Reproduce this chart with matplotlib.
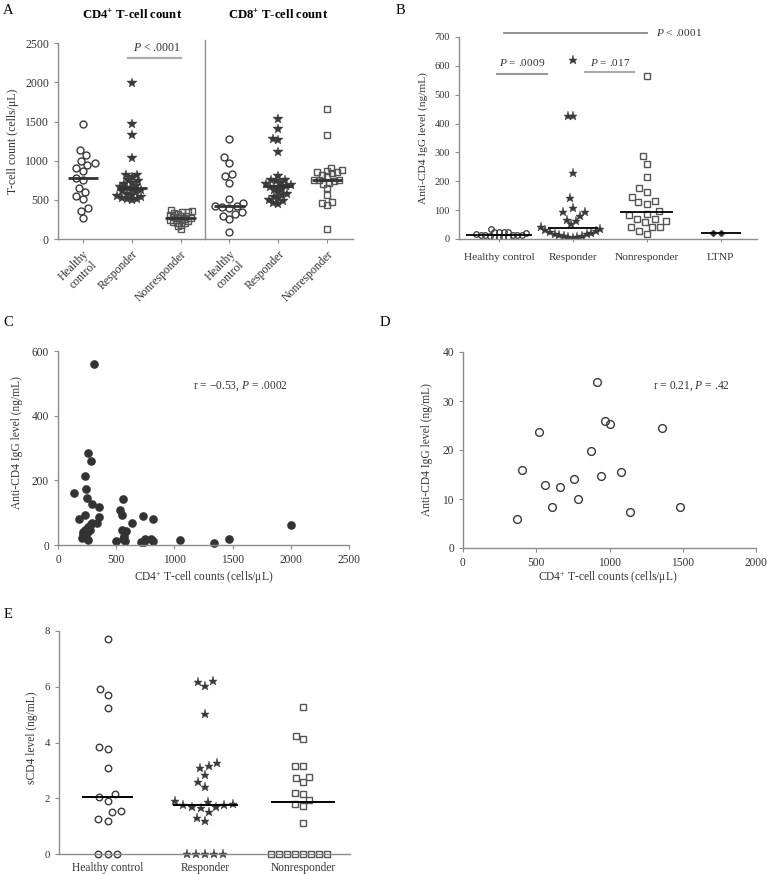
import numpy as np
import matplotlib
matplotlib.use('Agg')
import matplotlib.pyplot as plt

plt.rcParams['font.family'] = ['Liberation Serif', 'DejaVu Serif']
plt.rcParams['mathtext.fontset'] = 'custom'
plt.rcParams['mathtext.rm'] = 'Liberation Serif'
plt.rcParams['mathtext.it'] = 'Liberation Serif:italic'
plt.rcParams['mathtext.bf'] = 'Liberation Serif:bold'

# ---------------- data ----------------
groups3 = ['Healthy control', 'Responder', 'Nonresponder']
groups4 = ['Healthy control', 'Responder', 'Nonresponder', 'LTNP']
a_ticklabels = ['Healthy\ncontrol', 'Responder', 'Nonresponder',
                'Healthy\ncontrol', 'Responder', 'Nonresponder']

a_cd4_hc = [1469, 1137, 1073, 997, 946, 967, 869, 911, 754, 784, 656, 600, 549, 507, 400, 362, 268]
a_cd4_resp = [1989, 1469, 1333, 1031, 820, 815, 790, 760, 740, 720, 700, 680, 662, 650, 645,
              625, 610, 595, 580, 565, 550, 535, 525, 515, 505, 500]
a_cd4_nonresp = [365, 355, 345, 340, 330, 320, 310, 300, 290, 280, 272, 262, 255, 248, 240,
                 230, 220, 210, 200, 185, 160, 123]
a_cd8_hc = [1280, 1045, 975, 830, 800, 720, 515, 465, 425, 420, 410, 390, 350, 320, 300, 250, 95]
a_cd8_resp = [1530, 1400, 1275, 1265, 1115, 800, 760, 755, 740, 720, 700, 690, 680, 670, 660,
              640, 620, 600, 580, 560, 540, 520, 500, 480, 460, 450]
a_cd8_nonresp = [1660, 1330, 910, 880, 870, 860, 850, 840, 820, 800, 760, 750, 750, 740, 720,
                 700, 650, 560, 470, 460, 430, 125]

b_hc = [5.8, 16.0, 23.7, 12.9, 8.3, 12.4, 14.0, 10.1, 19.8, 33.9, 14.6, 25.9, 25.4, 15.5, 7.3, 24.5, 8.4]
b_resp = [621, 427, 425, 230, 143, 109, 95, 92, 81, 67, 62, 51, 43, 36, 32, 28, 25, 22, 19,
          16, 14, 12, 10, 8, 7, 5]
b_nonresp = [564, 288, 261, 215, 177, 163, 146, 128, 122, 131, 96, 88, 82, 69, 62, 69, 58,
             42, 42, 42, 27, 18]
b_ltnp = [22, 22]

c_cd4 = [308, 260, 283, 234, 243, 137, 246, 291, 351, 228, 351, 183, 283, 334, 260, 234, 211,
         206, 260, 248, 215, 275, 295, 529, 549, 560, 637, 549, 586, 569, 574, 500, 560, 729, 817,
         712, 749, 800, 820, 737, 1046, 1337, 1469, 1998]
c_igg = [560, 285, 260, 213, 174, 161, 144, 128, 118, 94, 86, 80, 66, 67, 56, 45, 33,
         23, 14, 38, 40, 45, 68, 107, 93, 141, 67, 46, 42, 28, 11, 13, 20, 90, 79,
         8, 20, 20, 13, 8, 14, 7, 19, 63]

d_cd4 = [368, 402, 518, 557, 605, 664, 761, 786, 877, 918, 945, 968, 1005, 1080, 1141, 1361, 1482]
d_igg = [5.9, 16.0, 23.7, 12.9, 8.3, 12.4, 14.0, 10.1, 19.8, 33.9, 14.6, 25.9, 25.4, 15.5, 7.3, 24.5, 8.4]

e_hc = [7.70, 5.92, 5.72, 5.24, 3.84, 3.75, 3.09, 2.14, 2.05, 1.90, 1.53, 1.50, 1.24, 1.19, 0, 0, 0]
e_resp = [6.17, 6.01, 6.21, 5.01, 3.16, 3.28, 3.09, 2.84, 2.58, 2.41, 1.85, 1.76, 1.70, 1.64,
          1.70, 1.76, 1.78, 1.91, 1.28, 1.19, 1.49, 0, 0, 0, 0, 0]
e_nonresp = [5.29, 4.14, 4.24, 3.16, 3.16, 2.77, 2.57, 2.73, 2.20, 2.17, 1.93, 1.72, 1.78, 1.12,
             0, 0, 0, 0, 0, 0, 0, 0]

# ---------------- helpers ----------------
W, H = 768, 874
fig = plt.figure(figsize=(W / 100, H / 100), dpi=100)
GRAY = '#8c8c8c'
DARK = '#3a3a3a'
TXT = '#333333'


def ax_px(left, top, right, bottom):
    return fig.add_axes([left / W, 1 - bottom / H, (right - left) / W, (bottom - top) / H])


def style(ax, fs=8):
    for s in ['top', 'right']:
        ax.spines[s].set_visible(False)
    for s in ['left', 'bottom']:
        ax.spines[s].set_color(GRAY)
        ax.spines[s].set_linewidth(1.0)
    ax.tick_params(colors=GRAY, labelcolor=TXT, labelsize=fs, length=3, width=0.8)


def swarm(ax, x0, values, dxm, dym=None):
    """Beeswarm offsets (elliptical exclusion, in pixels) for one category."""
    if dym is None:
        dym = dxm
    vals = np.asarray(values, float)
    pts = ax.transData.transform(np.column_stack([np.full(len(vals), x0), vals]))
    ys = pts[:, 1]
    order = np.argsort(ys, kind='stable')
    placed = []
    off = np.zeros(len(vals))
    for i in order:
        y = ys[i]
        ivs = []
        for px, py in placed:
            dy = abs(py - y)
            if dy < dym:
                dx = dxm * np.sqrt(1 - (dy / dym) ** 2)
                ivs.append((px - dx, px + dx))
        cands = [0.0] + [a for a, b in ivs] + [b for a, b in ivs]
        cands.sort(key=lambda c: (abs(c), c))
        chosen = 0.0
        for c in cands:
            if all(not (a + 1e-6 < c < b - 1e-6) for a, b in ivs):
                chosen = c
                break
        off[i] = chosen
        placed.append((chosen, y))
    x0px = pts[0, 0]
    inv = ax.transData.inverted()
    return inv.transform(np.column_stack([x0px + off, ys]))[:, 0]


def medline(ax, x0, values, half, lw=1.5, color='black'):
    m = np.median(values)
    ax.plot([x0 - half, x0 + half], [m, m], color=color, lw=lw, zorder=5, solid_capstyle='butt')


circ = dict(marker='o', mfc='none', mec=DARK, mew=1.0, ls='none')
star = dict(marker='*', mfc=DARK, mec=DARK, mew=0.3, ls='none')
sqr = dict(marker='s', mfc='none', mec='#555555', mew=1.0, ls='none')

# ---------------- Panel A ----------------
axA = ax_px(58, 43.3, 353, 239)
axA.set_xlim(-0.51, 5.53)
axA.set_ylim(0, 2500)
style(axA, 8.5)
axA.set_yticks([0, 500, 1000, 1500, 2000, 2500])
axA.set_xticks(range(6))
axA.set_xticklabels(a_ticklabels, rotation=45, ha='right', va='top',
                    rotation_mode='anchor', multialignment='center', fontsize=8.5)
setsA = [(a_cd4_hc, circ, 5.0, 7.5), (a_cd4_resp, star, 7.0, 5.0), (a_cd4_nonresp, sqr, 5.0, 4.0),
         (a_cd8_hc, circ, 5.0, 7.5), (a_cd8_resp, star, 7.0, 5.0), (a_cd8_nonresp, sqr, 5.0, 5.5)]
for i, (vals, mk, ms, dm) in enumerate(setsA):
    xs = swarm(axA, i, vals, dm)
    axA.plot(xs, vals, ms=ms, **mk)
    medline(axA, i, vals, 0.31, lw=2.0, color='#333333')
axA.plot([2.5, 2.5], [0, 2540], color=GRAY, lw=1.0, clip_on=False)
axA.plot([0.92, 2.0], [2309, 2309], color='#aaaaaa', lw=1.6, clip_on=False)
axA.text(1.52, 2440, r'$P$ < .0001', ha='center', va='center', fontsize=8.5, color=TXT)
fig.text(132 / W, 1 - 15 / H, r'CD4$^{\mathbf{+}}$ T-cell count', ha='center', va='center',
         fontsize=9.2, fontweight='bold')
fig.text(278 / W, 1 - 15 / H, r'CD8$^{\mathbf{+}}$ T-cell count', ha='center', va='center',
         fontsize=9.2, fontweight='bold')
fig.text(12.7 / W, 1 - 141 / H, 'T-cell count (cells/μL)', rotation=90, ha='center', va='center',
         fontsize=8.5, color=TXT)
fig.text(8 / W, 1 - 10 / H, 'A', ha='center', va='center', fontsize=10.5)

# ---------------- Panel B ----------------
axB = ax_px(459, 37, 757, 239)
axB.set_xlim(-0.54, 3.49)
axB.set_ylim(0, 700)
style(axB, 7.5)
axB.set_yticks(range(0, 701, 100))
axB.set_xticks(range(4))
axB.set_xticklabels(groups4, fontsize=8.2)
axB.tick_params(axis='x', length=2, pad=8)
setsB = [(b_hc, dict(circ, mew=0.9), 4.0, 4.6, 4.6, 0.45),
         (b_resp, star, 6.5, 4.6, 14.0, 0.34),
         (b_nonresp, sqr, 5.0, 8.5, 8.5, 0.36)]
for i, (vals, mk, ms, dx, dy, hw) in enumerate(setsB):
    xs = swarm(axB, i, vals, dx, dy)
    axB.plot(xs, vals, ms=ms, **mk)
    medline(axB, i, vals, hw, lw=1.3)
xs = swarm(axB, 3, b_ltnp, 8.0)
axB.plot(xs, b_ltnp, marker='D', ms=3, mfc=DARK, mec=DARK, ls='none')
medline(axB, 3, b_ltnp, 0.27, lw=1.3)
axB.plot([0.07, 2.0], [714, 714], color='#888888', lw=1.3, clip_on=False)
axB.text(2.13, 714, r'$P$ < .0001', ha='left', va='center', fontsize=8.2, color=TXT)
axB.plot([-0.03, 0.65], [572, 572], color='#999999', lw=1.5)
axB.text(0.31, 612, r'$P$ = .0009', ha='center', va='center', fontsize=8.2, color=TXT)
axB.plot([1.17, 1.83], [579, 579], color='#aaaaaa', lw=1.5)
axB.text(1.51, 612, r'$P$ = .017', ha='center', va='center', fontsize=8.2, color=TXT)
fig.text(423 / W, 1 - 138 / H, 'Anti-CD4 IgG level (ng/mL)', rotation=90, ha='center',
         va='center', fontsize=8.2, color=TXT)
fig.text(400 / W, 1 - 10 / H, 'B', ha='center', va='center', fontsize=10.5)

# ---------------- Panel C ----------------
axC = ax_px(58, 351, 349, 545)
axC.set_xlim(0, 2500)
axC.set_ylim(0, 600)
style(axC, 8.3)
axC.set_xticks(range(0, 2501, 500))
axC.set_yticks([0, 200, 400, 600])
axC.plot(c_cd4, c_igg, marker='o', ms=5.2, mfc='#333333', mec='#333333', ls='none', clip_on=False)
axC.text(1158, 491, r'r = −0.53, $P$ = .0002', ha='left', va='center', fontsize=8.3, color=TXT)
fig.text(17 / W, 1 - 443 / H, 'Anti-CD4 IgG level (ng/mL)', rotation=90, ha='center',
         va='center', fontsize=8.3, color=TXT)
fig.text(204 / W, 1 - 578 / H, r'CD4$^{+}$ T-cell counts (cells/μL)', ha='center', va='center',
         fontsize=8.3, color=TXT)
fig.text(8 / W, 1 - 322 / H, 'C', ha='center', va='center', fontsize=10.5)

# ---------------- Panel D ----------------
axD = ax_px(463, 352, 756, 548)
axD.set_xlim(0, 2000)
axD.set_ylim(0, 40)
style(axD, 8.3)
axD.set_xticks(range(0, 2001, 500))
axD.set_yticks(range(0, 41, 10))
axD.plot(d_cd4, d_igg, marker='o', ms=5.6, mfc='none', mec=DARK, mew=1.0, ls='none')
axD.text(1297, 33.1, r'r = 0.21, $P$ = .42', ha='left', va='center', fontsize=8.3, color=TXT)
fig.text(427 / W, 1 - 450 / H, 'Anti-CD4 IgG level (ng/mL)', rotation=90, ha='center',
         va='center', fontsize=8.3, color=TXT)
fig.text(608 / W, 1 - 578 / H, r'CD4$^{+}$ T-cell counts (cells/μL)', ha='center', va='center',
         fontsize=8.3, color=TXT)
fig.text(385 / W, 1 - 322 / H, 'D', ha='center', va='center', fontsize=10.5)

# ---------------- Panel E ----------------
axE = ax_px(59, 631, 350, 854)
axE.set_xlim(-0.5, 2.48)
axE.set_ylim(0, 8)
style(axE, 7.8)
axE.set_yticks(range(0, 9, 2))
axE.set_xticks(range(3))
axE.set_xticklabels(groups3, fontsize=8.3)
axE.tick_params(axis='x', length=0, pad=6)
setsE = [(e_hc, circ, 4.7, 9.5, 0.26), (e_resp, star, 6.5, 9.0, 0.33),
         (e_nonresp, sqr, 4.7, 8.0, 0.33)]
for i, (vals, mk, ms, dm, hw) in enumerate(setsE):
    xs = swarm(axE, i, vals, dm)
    axE.plot(xs, vals, ms=ms, clip_on=False, **mk)
    medline(axE, i, vals, hw, lw=1.4)
fig.text(32 / W, 1 - 738 / H, 'sCD4 level (ng/mL)', rotation=90, ha='center', va='center',
         fontsize=8.3, color=TXT)
fig.text(8 / W, 1 - 614 / H, 'E', ha='center', va='center', fontsize=10.5)

fig.savefig('out.png', dpi=100)
